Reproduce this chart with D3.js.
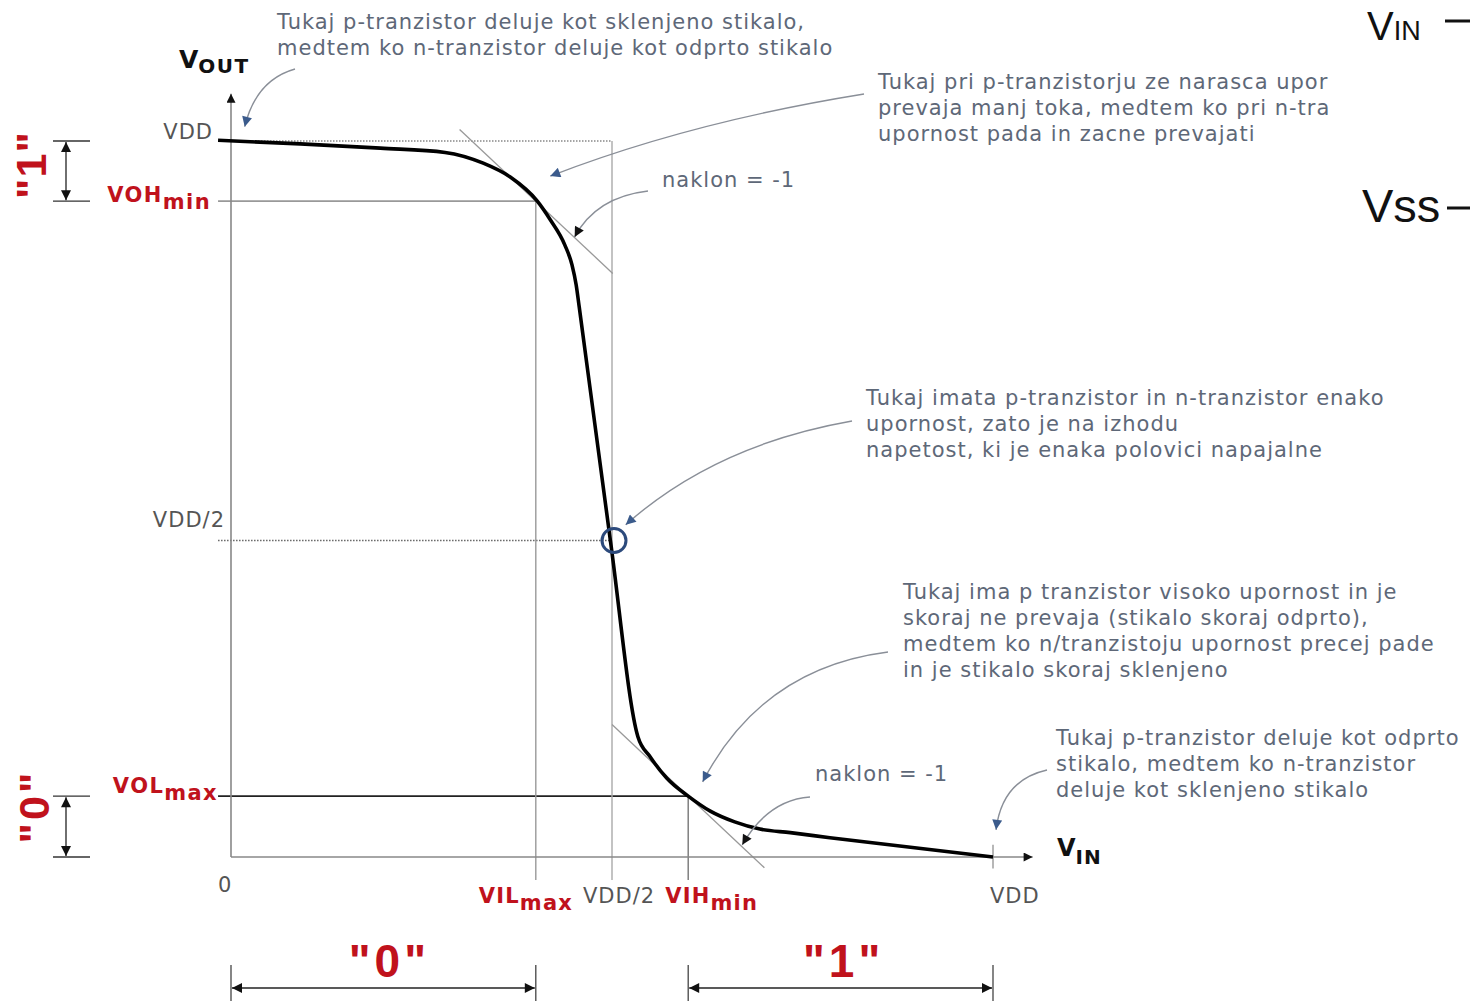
<!DOCTYPE html>
<html lang="sl">
<head>
  <meta charset="UTF-8">
  <title>CMOS inverter - prenosna karakteristika</title>
  <script src="https://d3js.org/d3.v7.min.js"></script>
  <style>
    html, body { margin: 0; padding: 0; background: #fff; }
    svg { display: block; }
  </style>
</head>
<body>
<svg></svg>
<script>
  const width = 1470, height = 1001

  // krivulja Vout(Vin), enota VDD = 1
  const curveVin  = [-0.017, 0.091, 0.196, 0.281, 0.331, 0.366, 0.402, 0.419, 0.438, 0.4475, 0.453, 0.457,
                     0.498, 0.534, 0.550, 0.572, 0.600, 0.629, 0.661, 0.694, 0.734, 0.786, 1.000]
  const curveVout = [1.001, 0.996, 0.990, 0.984, 0.969, 0.950, 0.916, 0.890, 0.855, 0.827, 0.799, 0.768,
                     0.441, 0.168, 0.140, 0.110, 0.085, 0.064, 0.049, 0.039, 0.034, 0.027, 0.000]

  // mejne vrednosti
  const VIL_MAX = 0.40, VIH_MIN = 0.60
  const VOH_MIN = 0.916, VOL_MAX = 0.085
  const VMID_IN = 0.5, VMID_OUT = 0.442

  // tangente z naklonom -1
  const upperTangentVin = [0.30, 0.501]
  const lowerTangentVin = [0.50, 0.70]

  // oznake na oseh
  const xTickValues = [0, VIL_MAX, VMID_IN, VIH_MIN, 1]
  const xTickMain = ['0', 'VIL', 'VDD/2', 'VIH', 'VDD']
  const xTickSub  = ['', 'max', '', 'min', '']
  const xTickRed  = [false, true, false, true, false]
  const yTickValues = [1, VOH_MIN, VMID_OUT, VOL_MAX]
  const yTickMain = ['VDD', 'VOH', 'VDD/2', 'VOL']
  const yTickSub  = ['', 'min', '', 'max']
  const yTickRed  = [false, true, false, true]

  // opombe
  const note1 = ['Tukaj p-tranzistor deluje kot sklenjeno stikalo,', 'medtem ko n-tranzistor deluje kot odprto stikalo']
  const note2 = ['Tukaj pri p-tranzistorju ze narasca upor', 'prevaja manj toka, medtem ko pri n-tra', 'upornost pada in zacne prevajati']
  const note3 = ['naklon = -1']
  const note4 = ['Tukaj imata p-tranzistor in n-tranzistor enako', 'upornost, zato je na izhodu', 'napetost, ki je enaka polovici napajalne']
  const note5 = ['Tukaj ima p tranzistor visoko upornost in je', 'skoraj ne prevaja (stikalo skoraj odprto),', 'medtem ko n/tranzistoju upornost precej pade', 'in je stikalo skoraj sklenjeno']
  const note6 = ['naklon = -1']
  const note7 = ['Tukaj p-tranzistor deluje kot odprto', 'stikalo, medtem ko n-tranzistor', 'deluje kot sklenjeno stikalo']
  // kam kaze puscica posamezne opombe (Vin, Vout)
  const noteTargets = [[0.018, 1.020], [0.419, 0.951], [0.451, 0.866], [0.518, 0.464], [0.619, 0.105], [0.671, 0.017], [1.004, 0.038]]

  const x = d3.scaleLinear().domain([0, 1]).range([231, 993])
  const y = d3.scaleLinear().domain([0, 1]).range([857, 141])

  const red = '#c0121c', noteColor = '#5e6878', labelColor = '#555'

  const svg = d3.select('svg')
      .attr('width', width)
      .attr('height', height)
      .attr('viewBox', [0, 0, width, height])
      .attr('font-family', '"DejaVu Sans", Verdana, sans-serif')

  // puscice
  const defs = svg.append('defs')
  const marker = (id, color, w, h) => defs.append('marker')
      .attr('id', id)
      .attr('viewBox', '0 0 10 10')
      .attr('refX', 10).attr('refY', 5)
      .attr('markerUnits', 'userSpaceOnUse')
      .attr('markerWidth', w).attr('markerHeight', h)
      .attr('orient', 'auto-start-reverse')
      .append('path').attr('d', 'M0,0 L10,5 L0,10 z').attr('fill', color)
  marker('ah-blue', '#3b5b8c', 12, 10)
  marker('ah-black', '#111', 12, 10)
  marker('ah-axis', '#111', 12, 9)
  marker('ah-dim', '#111', 13, 10)

  const seg = (x1, y1, x2, y2, color, w) => svg.append('line')
      .attr('x1', x1).attr('y1', y1).attr('x2', x2).attr('y2', y2)
      .attr('stroke', color).attr('stroke-width', w || 1.3)

  // pomozne crte
  seg(x(0), y(1), x(VMID_IN), y(1), '#888', 1.5).attr('stroke-dasharray', '1.5,1.5')
  seg(x(-0.017), y(VMID_OUT), x(VMID_IN), y(VMID_OUT), '#666', 1.5).attr('stroke-dasharray', '1.5,1.5')
  seg(x(-0.017), y(VOH_MIN), x(VIL_MAX), y(VOH_MIN), '#999', 1.6)
  seg(x(-0.017), y(VOL_MAX), x(VIH_MIN), y(VOL_MAX), '#222', 1.6)
  seg(x(VIL_MAX), y(VOH_MIN), x(VIL_MAX), y(-0.032), '#999', 1.4)
  seg(x(VMID_IN), y(1), x(VMID_IN), y(-0.032), '#aaa', 1.4)
  seg(x(VIH_MIN), y(VOL_MAX), x(VIH_MIN), y(-0.032), '#777', 1.4)
  seg(x(1), y(0.017), x(1), y(-0.016), '#999', 1.4)

  // tangenti z naklonom -1
  const tangent = (vx, vy, span) => seg(x(span[0]), y(vy - (span[0] - vx)), x(span[1]), y(vy - (span[1] - vx)), '#999', 1.3)
  tangent(VIL_MAX, VOH_MIN, upperTangentVin)
  tangent(VIH_MIN, VOL_MAX, lowerTangentVin)

  // osi
  seg(x(0), y(0), x(0), y(1.066), '#888', 1.6).attr('marker-end', 'url(#ah-axis)')
  seg(x(0), y(0), x(1.052), y(0), '#888', 1.6).attr('marker-end', 'url(#ah-axis)')

  // prenosna karakteristika
  const line = d3.line()
      .x((d, i) => x(curveVin[i]))
      .y(d => y(d))
      .curve(d3.curveMonotoneX)
  svg.append('path')
      .attr('d', line(curveVout))
      .attr('fill', 'none')
      .attr('stroke', '#000')
      .attr('stroke-width', 3.6)
      .attr('stroke-linejoin', 'round')

  // krog pri VDD/2
  svg.append('circle')
      .attr('cx', x(VMID_IN) + 2).attr('cy', y(VMID_OUT))
      .attr('r', 12)
      .attr('fill', 'none')
      .attr('stroke', '#2c4a7c')
      .attr('stroke-width', 3)

  // oznake na x osi
  const xdx = [-13, -57, -29, -23, -3]
  const xby = [892, 903, 903, 903, 903]
  xTickValues.forEach((v, i) => {
    const t = svg.append('text')
        .attr('x', x(v) + xdx[i]).attr('y', xby[i])
        .attr('font-size', 21)
        .attr('letter-spacing', xTickRed[i] ? 1.2 : 1)
        .attr('font-weight', xTickRed[i] ? 'bold' : 'normal')
        .attr('fill', xTickRed[i] ? red : labelColor)
    t.append('tspan').text(xTickMain[i])
    if (xTickSub[i]) t.append('tspan').attr('dy', 7).text(xTickSub[i])
  })

  // oznake na y osi
  const yEnd = [213, 211, 225, 218]
  const ydy = [-2, 1, -14, -3]
  yTickValues.forEach((v, i) => {
    const t = svg.append('text')
        .attr('x', yEnd[i]).attr('y', y(v) + ydy[i])
        .attr('text-anchor', 'end')
        .attr('font-size', 21)
        .attr('letter-spacing', yTickRed[i] ? 1.4 : 1)
        .attr('font-weight', yTickRed[i] ? 'bold' : 'normal')
        .attr('fill', yTickRed[i] ? red : labelColor)
    t.append('tspan').text(yTickMain[i])
    if (yTickSub[i]) t.append('tspan').attr('dy', 7).text(yTickSub[i])
  })

  // imena osi
  const vout = svg.append('text').attr('x', 179).attr('y', 68).attr('font-weight', 'bold').attr('fill', '#111')
  vout.append('tspan').attr('font-size', 25).text('V')
  vout.append('tspan').attr('font-size', 20).attr('dy', 5).attr('letter-spacing', 1.5).text('OUT')
  const vinLbl = svg.append('text').attr('x', 1057).attr('y', 856).attr('font-weight', 'bold').attr('fill', '#111')
  vinLbl.append('tspan').attr('font-size', 24).text('V')
  vinLbl.append('tspan').attr('font-size', 20).attr('dy', 8).attr('letter-spacing', 1).text('IN')

  // logicni nivoji "1" in "0" ob y osi
  const dimV = (vTop, vBot) => {
    seg(53, y(vTop), 90, y(vTop), '#333', 1.3)
    seg(53, y(vBot), 90, y(vBot), '#333', 1.3)
    seg(66, y(vTop) + 1, 66, y(vBot) - 1, '#222', 1.3)
        .attr('marker-start', 'url(#ah-dim)').attr('marker-end', 'url(#ah-dim)')
  }
  dimV(1, VOH_MIN)
  dimV(VOL_MAX, 0)
  const bigLabel = (txt, cx, cy, rot, size, ls) => svg.append('text')
      .attr('transform', `translate(${cx},${cy}) rotate(${rot})`)
      .attr('text-anchor', 'middle')
      .attr('dominant-baseline', 'central')
      .attr('font-family', '"Liberation Sans", Arial, sans-serif')
      .attr('font-weight', 'bold')
      .attr('font-size', size)
      .attr('letter-spacing', ls)
      .attr('fill', red)
      .text(txt)
  bigLabel('"1"', 31, y((1 + VOH_MIN) / 2) - 6, -90, 43, 1)
  bigLabel('"0"', 34, y((VOL_MAX) / 2) - 20, -90, 43, 3)

  // logicni nivoji pod x osjo
  const dimH = (v1, v2) => {
    seg(x(v1), 965, x(v1), 1001, '#444', 1.3)
    seg(x(v2), 965, x(v2), 1001, '#444', 1.3)
    seg(x(v1) + 1, 988, x(v2) - 1, 988, '#222', 1.3)
        .attr('marker-start', 'url(#ah-dim)').attr('marker-end', 'url(#ah-dim)')
  }
  dimH(0, VIL_MAX)
  dimH(VIH_MIN, 1)
  bigLabel('"0"', x(VIL_MAX / 2) + 6, 961, 0, 46, 4)
  bigLabel('"1"', x((VIH_MIN + 1) / 2) + 3, 961, 0, 46, 4)

  // opombe s puscicami
  const notes = [
    {lines: note1, x: 277, y: 29, from: [295, 69], ctrl: [256, 80], head: 'ah-blue'},
    {lines: note2, x: 878, y: 89, from: [864, 94], ctrl: [690, 122], head: 'ah-blue'},
    {lines: note3, x: 662, y: 187, from: [648, 191], ctrl: [596, 197], head: 'ah-black'},
    {lines: note4, x: 866, y: 405, from: [852, 421], ctrl: [715, 445], head: 'ah-blue'},
    {lines: note5, x: 903, y: 599, from: [888, 652], ctrl: [762, 668], head: 'ah-blue'},
    {lines: note6, x: 815, y: 781, from: [810, 797], ctrl: [768, 800], head: 'ah-black'},
    {lines: note7, x: 1056, y: 745, from: [1047, 770], ctrl: [1002, 780], head: 'ah-blue'}
  ]
  notes.forEach((n, i) => {
    const t = noteTargets[i]
    svg.append('path')
        .attr('d', `M${n.from[0]},${n.from[1]} Q${n.ctrl[0]},${n.ctrl[1]} ${x(t[0])},${y(t[1])}`)
        .attr('fill', 'none')
        .attr('stroke', '#8a8f98')
        .attr('stroke-width', 1.4)
        .attr('marker-end', `url(#${n.head})`)
    svg.append('g').selectAll('text')
        .data(n.lines)
        .join('text')
        .attr('x', n.x)
        .attr('y', (d, j) => n.y + j * 26)
        .attr('font-size', 21)
        .attr('letter-spacing', 1)
        .attr('fill', noteColor)
        .text(d => d)
  })

  // odrezan del sosednje sheme desno zgoraj
  const vinTop = svg.append('text').attr('x', 1367).attr('y', 40)
      .attr('font-family', '"Liberation Sans", Arial, sans-serif').attr('fill', '#111')
  vinTop.append('tspan').attr('font-size', 40).text('V')
  vinTop.append('tspan').attr('font-size', 27).text('IN')
  seg(1445, 21, 1470, 21, '#111', 3)
  svg.append('text').attr('x', 1362).attr('y', 222)
      .attr('font-family', '"Liberation Sans", Arial, sans-serif')
      .attr('font-size', 47).attr('fill', '#111').text('Vss')
  seg(1447, 208, 1470, 208, '#111', 3)
</script>
</body>
</html>
